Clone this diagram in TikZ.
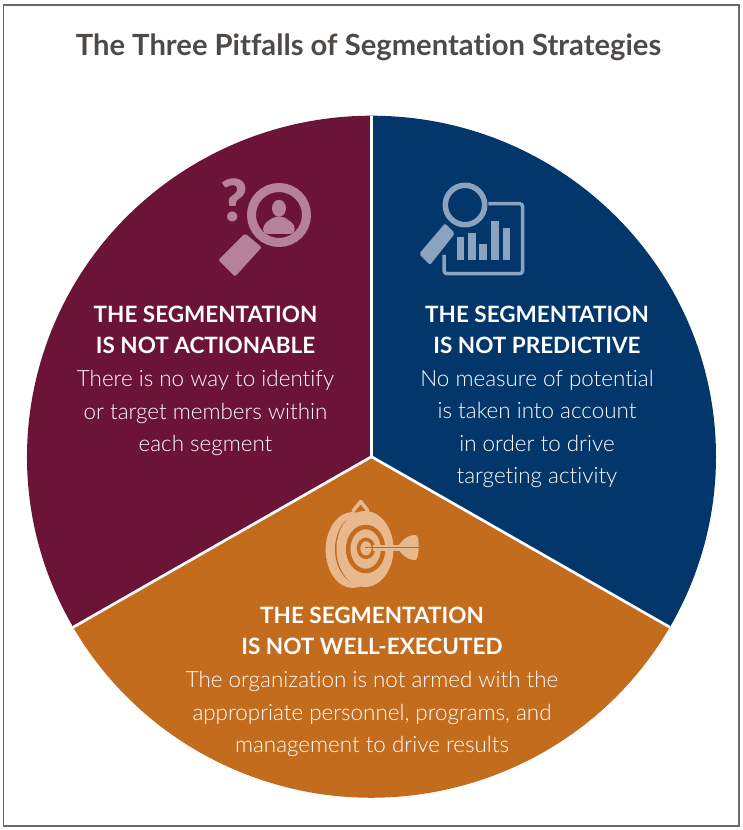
\documentclass[tikz,border=0pt]{standalone}
\usepackage{fontspec}
\setmainfont{Lato}[Ligatures=NoCommon]
\newfontfamily\lightfont{Lato Light}[Ligatures=NoCommon]
\newfontfamily\blackfont{Lato Black}
\definecolor{framegray}{RGB}{105,105,105}
\definecolor{titlegray}{RGB}{78,74,72}
\definecolor{wine}{RGB}{107,20,56}
\definecolor{navy}{RGB}{3,55,107}
\definecolor{rust}{RGB}{196,108,30}
\definecolor{wineicon}{RGB}{181,130,154}
\definecolor{navyicon}{RGB}{139,163,191}
\definecolor{rusticon}{RGB}{232,184,142}
\tikzset{
	headnode/.style={text=white, align=center, font=\bfseries\fontsize{22.5}{31}\selectfont},
	bodynode/.style={text=white, align=center, font=\lightfont\fontsize{22.4}{32.3}\selectfont},
	gapline/.style={draw=white, line width=2.7pt},
	pieradius/.style={x radius=344.5pt, y radius=341pt},
	iconline/.style={line width=3.5pt, line join=round}
}
\begin{document}
\begin{tikzpicture}[x=1pt, y=-1pt]
	\useasboundingbox (0,0) rectangle (743,830);
	\draw[framegray, line width=1.5pt] (3.5,5) rectangle (739,826);
	\node[text=titlegray, font=\bfseries\fontsize{29.2}{32}\selectfont] at (368.5,47) (Title) {The Three Pitfalls of Segmentation Strategies};

	\coordinate (C) at (371.5,456.7);
	\coordinate (Top) at (371.5,115.7);
	\coordinate (Left) at (73.2,627.2);
	\coordinate (Right) at (669.8,627.2);
	\fill[wine] (C) -- (Left) arc[start angle=210, end angle=90, pieradius] -- cycle;
	\fill[navy] (C) -- (Top) arc[start angle=90, end angle=-30, pieradius] -- cycle;
	\fill[rust] (C) -- (Right) arc[start angle=-30, end angle=-150, pieradius] -- cycle;
	\draw[gapline] (C) -- (Top);
	\draw[gapline] (C) -- (Left);
	\draw[gapline] (C) -- (Right);

	\node[headnode] at (205.5,330) (HeadA) {THE SEGMENTATION\\IS NOT ACTIONABLE};
	\node[bodynode] at (205.5,413) (BodyA) {There is no way to identify\\or target members within\\each segment};
	\node[headnode] at (537,330) (HeadB) {THE SEGMENTATION\\IS NOT PREDICTIVE};
	\node[bodynode] at (537,429) (BodyB) {No measure of potential\\is taken into account\\in order to drive\\targeting activity};
	\node[headnode] at (372,631) (HeadC) {THE SEGMENTATION\\IS NOT WELL-EXECUTED};
	\node[bodynode] at (372,714) (BodyC) {The organization is not armed with the\\appropriate personnel, programs, and\\management to drive results};

	% left icon
	\begin{scope}[shift={(200,160)}, x=0.3333pt, y=-0.3333pt]
		\draw[wineicon, line width=9pt] (237,165) circle[radius=27.5pt];
		\fill[wineicon] (237,145) ellipse[x radius=7pt, y radius=8.5pt];
		\fill[wineicon, rounded corners=4pt] (222,170) -- (252,170) -- (285,195) -- (283,222) -- (190,222) -- (189,195) -- cycle;
		\fill[wineicon, rounded corners=2pt] (135,220) -- (185,262) -- (105,350) -- (55,300) -- cycle;
		\node[text=wineicon, font=\blackfont\fontsize{58}{58}\selectfont] at (104,122) (Ask) {?};
	\end{scope}

	% right icon
	\begin{scope}[shift={(405,170)}, x=0.3333pt, y=-0.3333pt]
		\draw[navyicon, iconline, rounded corners=3pt] (250,101) -- (353,101) -- (353,311) -- (117,311) -- (117,255);
		\draw[navyicon, line width=5.5pt] (180,105) circle[radius=19.7pt];
		\fill[navyicon, rounded corners=2pt] (120,160) -- (150,190) -- (75,285) -- (42,252) -- cycle;
		\foreach \xa/\xb/\ya in {155/178/200, 190/213/188, 222/245/222, 258/282/152, 293/316/175}
			\fill[navyicon] (\xa,\ya) rectangle (\xb,270);
	\end{scope}

	% bottom icon
	\begin{scope}[shift={(310,495)}, x=0.3333pt, y=-0.3333pt]
		\draw[rusticon, line width=3.5pt, line join=round, line cap=round] (129,48) -- (152,20) -- (173,46);
		\fill[rusticon] (128,165) ellipse[x radius=27pt, y radius=38pt];
		\fill[rust] (150,163) ellipse[x radius=25pt, y radius=35pt];
		\fill[rusticon] (165,162) ellipse[x radius=28.5pt, y radius=38pt];
		\draw[rust, line width=4.5pt] (167,162) ellipse[x radius=17.5pt, y radius=22pt];
		\draw[rust, line width=3.5pt] (168,160) ellipse[x radius=7.5pt, y radius=9pt];
		\fill[rusticon] (262,156) .. controls (280,130) and (300,118) .. (318,120) .. controls (330,125) and (328,185) .. (318,195) .. controls (300,197) and (280,185) .. (262,160) -- cycle;
		\fill[rusticon] (190,149) rectangle (270,168);
		\draw[rust, line width=1.3pt] (165,158) -- (326,158);
	\end{scope}
\end{tikzpicture}
\end{document}
